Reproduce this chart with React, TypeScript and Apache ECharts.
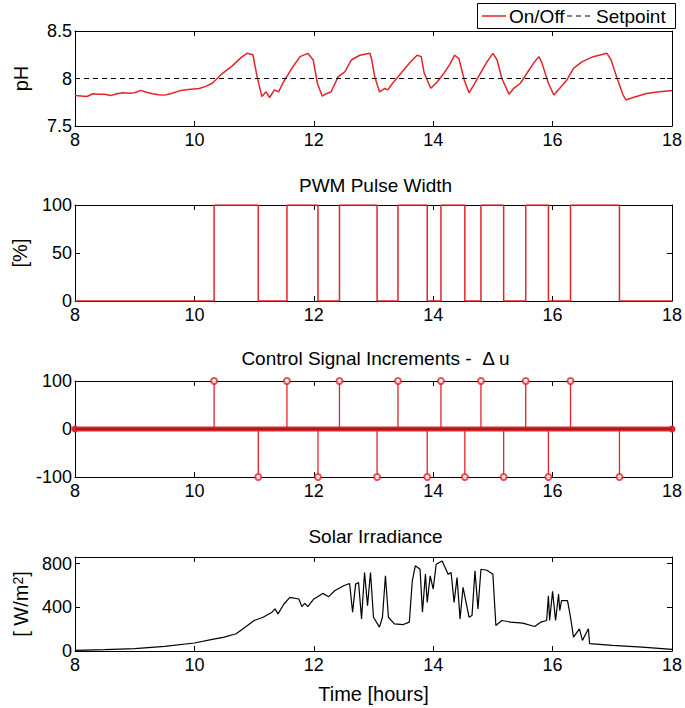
import React, { useEffect, useRef } from "react";
import * as echarts from "echarts";

// ---- data ----
const hourRange = [8, 18];

// pH under on/off control
const phHours = [
  8.0, 8.1, 8.2, 8.3, 8.4, 8.5, 8.6, 8.7, 8.8, 8.9, 9.0, 9.1, 9.2, 9.3, 9.4, 9.5, 9.6, 9.75, 9.9,
  10.08, 10.2, 10.3, 10.47, 10.63, 10.8, 10.88, 10.98, 11.05, 11.13, 11.2, 11.26, 11.34, 11.41, 11.48,
  11.63, 11.77, 11.9, 11.99, 12.06, 12.14, 12.21, 12.29, 12.41, 12.52, 12.63, 12.77, 12.94, 12.97,
  13.02, 13.1, 13.19, 13.24, 13.32, 13.46, 13.6, 13.73, 13.8, 13.85, 13.96, 14.07, 14.18, 14.27,
  14.36, 14.43, 14.52, 14.6, 14.68, 14.79, 14.9, 15.0, 15.07, 15.15, 15.27, 15.35, 15.46, 15.57,
  15.68, 15.77, 15.82, 15.93, 16.02, 16.12, 16.24, 16.35, 16.49, 16.68, 16.91, 16.98, 17.07, 17.18,
  17.23, 17.35, 17.57, 17.79, 17.96, 18.0,
];
const phValues = [
  7.82, 7.815, 7.81, 7.84, 7.835, 7.835, 7.82, 7.84, 7.85, 7.845, 7.85, 7.875, 7.855, 7.84, 7.83,
  7.825, 7.84, 7.87, 7.885, 7.895, 7.92, 7.95, 8.055, 8.13, 8.23, 8.265, 8.25, 8.02, 7.81, 7.86, 7.8,
  7.88, 7.86, 7.95, 8.105, 8.23, 8.265, 8.195, 7.95, 7.815, 7.84, 7.86, 8.02, 8.07, 8.195, 8.245,
  8.265, 8.2, 8.02, 7.86, 7.895, 7.88, 7.95, 8.055, 8.16, 8.245, 8.23, 8.055, 7.897, 7.966, 8.055,
  8.14, 8.245, 8.21, 7.985, 7.85, 7.93, 8.055, 8.175, 8.265, 8.195, 8.0, 7.835, 7.897, 7.95, 8.055,
  8.16, 8.23, 8.167, 7.95, 7.826, 7.897, 7.985, 8.107, 8.175, 8.23, 8.265, 8.195, 8.02, 7.826,
  7.774, 7.8, 7.843, 7.86, 7.87, 7.87,
];
const setpoint = 8;

// PWM pulse width: level held from each switching time onward
const pwmHours = [
  8, 10.33, 11.07, 11.55, 12.07, 12.43, 13.06, 13.41, 13.9, 14.13, 14.53, 14.8, 15.18, 15.55, 15.93,
  16.3, 17.12, 18,
];
const pwmLevels = [0, 100, 0, 100, 0, 100, 0, 100, 0, 100, 0, 100, 0, 100, 0, 100, 0, 0];

// control signal increments
const duHours = [
  10.33, 11.07, 11.55, 12.07, 12.43, 13.06, 13.41, 13.9, 14.13, 14.53, 14.8, 15.18, 15.55, 15.93,
  16.3, 17.12,
];
const duValues = [
  100, -100, 100, -100, 100, -100, 100, -100, 100, -100, 100, -100, 100, -100, 100, -100,
];
const duZeroHours = [8, 18];

// solar irradiance [W/m2]
const solarHours = [
  8.0, 8.5, 9.0, 9.5, 10.0, 10.3, 10.5, 10.7, 10.85, 11.0, 11.15, 11.3, 11.35, 11.4, 11.5, 11.6,
  11.75, 11.8, 11.85, 11.9, 12.0, 12.05, 12.15, 12.25, 12.35, 12.5, 12.6, 12.65, 12.7, 12.75, 12.8,
  12.85, 12.9, 12.95, 13.0, 13.1, 13.15, 13.2, 13.25, 13.35, 13.5, 13.6, 13.65, 13.7, 13.78, 13.82,
  13.87, 13.9, 13.95, 14.0, 14.05, 14.15, 14.25, 14.3, 14.35, 14.4, 14.45, 14.5, 14.6, 14.65, 14.7,
  14.75, 14.8, 14.9, 15.0, 15.05, 15.15, 15.3, 15.5, 15.7, 15.8, 15.9, 15.93, 15.95, 16.0, 16.05,
  16.1, 16.12, 16.15, 16.25, 16.3, 16.35, 16.45, 16.5, 16.6, 16.62, 17.0, 17.5, 18.0,
];
const solarValues = [
  6, 12, 21, 42, 73, 106, 127, 158, 218, 279, 309, 355, 385, 340, 430, 491, 476, 406, 436, 406, 476,
  491, 527, 497, 551, 597, 618, 355, 612, 627, 294, 718, 415, 718, 309, 218, 309, 688, 309, 248, 242,
  264, 642, 779, 748, 355, 703, 445, 688, 567, 794, 824, 703, 718, 445, 673, 294, 582, 309, 324, 733,
  385, 748, 739, 703, 233, 279, 264, 255, 224, 264, 279, 506, 279, 545, 279, 521, 370, 461, 461, 309,
  127, 203, 97, 203, 67, 52, 36, 15,
];

const xTicks = { interval: 2 };
const phTicks = { min: 7.5, max: 8.5, interval: 0.5 };
const pwmTicks = { min: 0, max: 100, interval: 50 };
const duTicks = { min: -100, max: 100, interval: 100 };
const solarTicks = { min: 0, max: 860, interval: 400 };

const legendNames = ["On/Off", "Setpoint"];

// ---- styling ----
const FONT = "'Liberation Sans', Arial, Helvetica, sans-serif";
const RED = "#e3242b";
const PLOT_LEFT = 75;
const PLOT_RIGHT = 9;
const PLOT_CENTER = 375.5;
const TICK_FONT = 18;

const panels = [
  { top: 31, height: 95 },
  { top: 205, height: 96 },
  { top: 381, height: 96 },
  { top: 557, height: 94 },
];

const zip = (xs: number[], ys: number[]) => xs.map((x, i) => [x, ys[i]]);

const lineStyle = { color: "#000", width: 1 };

function xAxesFor(gridIndex: number, name?: string) {
  const base = {
    type: "value",
    gridIndex,
    min: hourRange[0],
    max: hourRange[1],
    interval: xTicks.interval,
    splitLine: { show: false },
    axisLine: { show: true, onZero: false, lineStyle },
    axisTick: { show: true, inside: true, length: 5, lineStyle },
  };
  return [
    {
      ...base,
      position: "bottom",
      axisLabel: { color: "#000", fontSize: TICK_FONT, fontFamily: FONT, margin: 5 },
      name: name || "",
      nameLocation: "middle",
      nameGap: 33,
      nameTextStyle: { color: "#000", fontSize: 20, fontFamily: FONT },
    },
    { ...base, position: "top", axisLabel: { show: false } },
  ];
}

function yAxesFor(
  gridIndex: number,
  ticks: { min: number; max: number; interval: number },
  name: string,
  nameGap: number,
  extraNameStyle: any = {}
) {
  const base = {
    type: "value",
    gridIndex,
    min: ticks.min,
    max: ticks.max,
    interval: ticks.interval,
    splitLine: { show: false },
    axisLine: { show: true, onZero: false, lineStyle },
    axisTick: { show: true, inside: true, length: 5, lineStyle },
  };
  return [
    {
      ...base,
      position: "left",
      axisLabel: {
        color: "#000",
        fontSize: TICK_FONT,
        fontFamily: FONT,
        margin: 3,
        formatter: (v: number) => {
          const k = (v - ticks.min) / ticks.interval;
          return Math.abs(k - Math.round(k)) < 1e-6 ? String(v) : "";
        },
      },
      name,
      nameLocation: "middle",
      nameGap,
      nameTextStyle: { color: "#000", fontSize: 20, fontFamily: FONT, ...extraNameStyle },
    },
    { ...base, position: "right", axisLabel: { show: false } },
  ];
}

function titleText(text: string, y: number) {
  return {
    type: "text",
    x: PLOT_CENTER,
    y,
    style: {
      text,
      fill: "#000",
      fontSize: 19,
      fontFamily: FONT,
      align: "center",
      verticalAlign: "middle",
    },
  };
}

// boxed legend in the upper right corner
function legendGraphic() {
  const y = 16;
  const textStyle = { fill: "#000", fontSize: 19, fontFamily: FONT, align: "left", verticalAlign: "middle" };
  return {
    type: "group",
    children: [
      {
        type: "rect",
        shape: { x: 477.5, y: 3.5, width: 198, height: 25 },
        style: { fill: "#fff", stroke: "#000", lineWidth: 1 },
      },
      {
        type: "line",
        shape: { x1: 482, y1: y, x2: 506, y2: y },
        style: { stroke: RED, lineWidth: 1.5 },
      },
      { type: "text", x: 509, y, style: { text: legendNames[0], ...textStyle } },
      {
        type: "line",
        shape: { x1: 567, y1: y, x2: 593, y2: y },
        style: { stroke: "#000", lineWidth: 1, lineDash: [5, 4] },
      },
      { type: "text", x: 596, y, style: { text: legendNames[1], ...textStyle } },
    ],
  };
}

export default function App() {
  const ref = useRef<HTMLDivElement>(null);

  useEffect(() => {
    if (!ref.current) return;
    const chart = echarts.init(ref.current, undefined, { renderer: "svg" });

    const option: any = {
      animation: false,
      backgroundColor: "#fff",
      textStyle: { fontFamily: FONT },
      grid: panels.map((p) => ({
        left: PLOT_LEFT,
        right: PLOT_RIGHT,
        top: p.top,
        height: p.height,
        containLabel: false,
      })),
      xAxis: [...xAxesFor(0), ...xAxesFor(1), ...xAxesFor(2), ...xAxesFor(3, "Time [hours]")],
      yAxis: [
        ...yAxesFor(0, phTicks, "pH", 44),
        ...yAxesFor(1, pwmTicks, "[%]", 45),
        ...yAxesFor(2, duTicks, "", 40),
        ...yAxesFor(3, solarTicks, "[ W/m{sup|2}]", 43, {
          rich: { sup: { fontSize: 14, fontFamily: FONT, color: "#000", verticalAlign: "top", lineHeight: 12 } },
        }),
      ],
      graphic: [
        titleText("PWM Pulse Width", 185),
        titleText("Control Signal Increments -  \u0394 u", 358),
        titleText("Solar Irradiance", 536),
        legendGraphic(),
      ],
      series: [
        {
          name: legendNames[0],
          type: "line",
          xAxisIndex: 0,
          yAxisIndex: 0,
          data: zip(phHours, phValues),
          symbol: "none",
          color: RED,
          lineStyle: { color: RED, width: 1.5 },
        },
        {
          name: legendNames[1],
          type: "line",
          xAxisIndex: 0,
          yAxisIndex: 0,
          data: hourRange.map((h) => [h, setpoint]),
          symbol: "none",
          color: "#000",
          lineStyle: { color: "#000", width: 1, type: [5, 4] },
        },
        {
          name: "PWM",
          type: "line",
          step: "end",
          xAxisIndex: 2,
          yAxisIndex: 2,
          data: zip(pwmHours, pwmLevels),
          symbol: "none",
          color: RED,
          lineStyle: { color: RED, width: 1.5 },
        },
        {
          name: "du zero",
          type: "line",
          xAxisIndex: 4,
          yAxisIndex: 4,
          data: duZeroHours.map((h) => [h, 0]),
          symbol: "circle",
          symbolSize: 7,
          showSymbol: true,
          color: RED,
          lineStyle: { color: RED, width: 5 },
          z: 3,
        },
        {
          name: "du baseline",
          type: "line",
          xAxisIndex: 4,
          yAxisIndex: 4,
          data: duZeroHours.map((h) => [h, 0]),
          symbol: "none",
          color: "#5a1a1a",
          lineStyle: { color: "#5a1a1a", width: 1 },
          z: 4,
        },
        {
          name: "du stems",
          type: "custom",
          xAxisIndex: 4,
          yAxisIndex: 4,
          data: zip(duHours, duValues),
          encode: { x: 0, y: 1 },
          renderItem: (params: any, api: any) => {
            const t = api.value(0);
            const v = api.value(1);
            const p0 = api.coord([t, 0]);
            const p1 = api.coord([t, v]);
            return {
              type: "line",
              shape: { x1: p0[0], y1: p0[1], x2: p1[0], y2: p1[1] },
              style: { stroke: RED, lineWidth: 1.3 },
            };
          },
          z: 2,
        },
        {
          name: "du markers",
          type: "scatter",
          xAxisIndex: 4,
          yAxisIndex: 4,
          data: zip(duHours, duValues),
          symbol: "emptyCircle",
          symbolSize: 6,
          itemStyle: { color: RED, borderColor: RED, borderWidth: 1.5 },
          z: 5,
        },
        {
          name: "Solar",
          type: "line",
          xAxisIndex: 6,
          yAxisIndex: 6,
          data: zip(solarHours, solarValues),
          symbol: "none",
          color: "#000",
          lineStyle: { color: "#000", width: 1.2 },
        },
      ],
    };

    chart.setOption(option);
    return () => chart.dispose();
  }, []);

  return (
    <div
      ref={ref}
      style={{ position: "fixed", left: 0, top: 0, width: 685, height: 708, background: "#fff" }}
    />
  );
}
